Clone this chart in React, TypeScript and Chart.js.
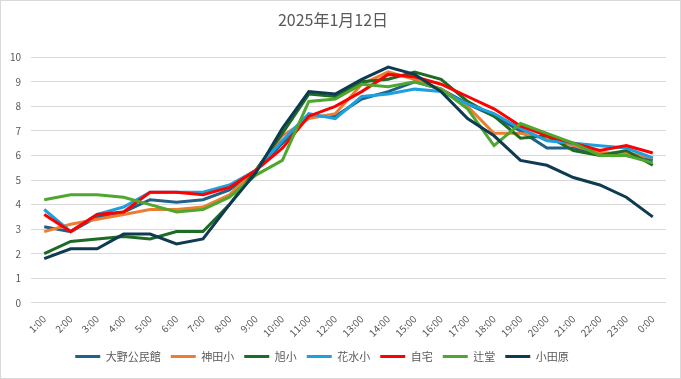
import { useEffect, useRef } from "react";
import { Chart, registerables } from "chart.js";

Chart.register(...registerables);

const TITLE = "2025年1月12日";

const hours = [
  "1:00", "2:00", "3:00", "4:00", "5:00", "6:00", "7:00", "8:00", "9:00", "10:00", "11:00", "12:00",
  "13:00", "14:00", "15:00", "16:00", "17:00", "18:00", "19:00", "20:00", "21:00", "22:00", "23:00", "0:00",
];

const seriesNames = ["大野公民館", "神田小", "旭小", "花水小", "自宅", "辻堂", "小田原"];

const ono = [3.1, 2.9, 3.5, 3.7, 4.2, 4.1, 4.2, 4.6, 5.4, 6.5, 7.6, 7.6, 8.3, 8.6, 9.0, 8.7, 8.1, 7.6, 7.0, 6.3, 6.3, 6.1, 6.0, 5.8];
const kanda = [2.9, 3.2, 3.4, 3.6, 3.8, 3.8, 3.9, 4.4, 5.4, 6.8, 7.5, 7.7, 8.9, 9.4, 9.1, 8.7, 8.0, 6.9, 6.9, 6.7, 6.4, 6.1, 6.1, 5.9];
const asahi = [2.0, 2.5, 2.6, 2.7, 2.6, 2.9, 2.9, 4.0, 5.4, 6.9, 8.5, 8.4, 9.0, 9.1, 9.4, 9.1, 8.2, 7.6, 6.7, 6.8, 6.2, 6.0, 6.2, 5.6];
const hanamizu = [3.8, 2.9, 3.6, 3.9, 4.5, 4.5, 4.5, 4.8, 5.4, 6.6, 7.7, 7.5, 8.4, 8.5, 8.7, 8.6, 8.1, 7.7, 7.1, 6.6, 6.5, 6.4, 6.3, 5.9];
const jitaku = [3.6, 2.9, 3.6, 3.7, 4.5, 4.5, 4.4, 4.7, 5.4, 6.3, 7.6, 8.0, 8.6, 9.3, 9.2, 8.9, 8.4, 7.9, 7.2, 6.8, 6.5, 6.2, 6.4, 6.1];
const tsujido = [4.2, 4.4, 4.4, 4.3, 4.0, 3.7, 3.8, 4.3, 5.2, 5.8, 8.2, 8.3, 8.9, 8.8, 9.0, 8.7, 7.9, 6.4, 7.3, 6.9, 6.5, 6.0, 6.0, 5.7];
const odawara = [1.8, 2.2, 2.2, 2.8, 2.8, 2.4, 2.6, 4.0, 5.3, 7.1, 8.6, 8.5, 9.1, 9.6, 9.3, 8.6, 7.5, 6.8, 5.8, 5.6, 5.1, 4.8, 4.3, 3.5];

const seriesValues = [ono, kanda, asahi, hanamizu, jitaku, tsujido, odawara];
const colors = ["#1F6188", "#ED7D31", "#1D6B24", "#1CA1DE", "#FF0000", "#4EA72E", "#0E3A52"];

const FONT = '"Noto Sans CJK JP", "Noto Sans", sans-serif';
const TEXT = "#595959";

export default function App() {
  const ref = useRef<HTMLCanvasElement>(null);

  useEffect(() => {
    document.body.style.margin = "0";
    const frame = {
      id: "frame",
      afterLayout(c: any) {
        if (c.legend) {
          c.legend.left -= 11;
          c.legend.right -= 11;
        }
      },
      beforeDraw(c: any) {
        const ctx = c.ctx;
        ctx.save();
        ctx.fillStyle = "#ffffff";
        ctx.fillRect(0, 0, c.width, c.height);
        ctx.restore();
      },
      afterDraw(c: any) {
        const ctx = c.ctx;
        ctx.save();
        ctx.strokeStyle = "#d9d9d9";
        ctx.lineWidth = 1;
        ctx.strokeRect(0.5, 0.5, c.width - 1, c.height - 1);
        ctx.restore();
      },
    };
    const chart = new Chart(ref.current as HTMLCanvasElement, {
      type: "line",
      data: {
        labels: hours,
        datasets: seriesNames.map((name, i) => ({
          label: name,
          data: seriesValues[i],
          borderColor: colors[i],
          backgroundColor: colors[i],
          borderWidth: 3,
          pointRadius: 0,
          tension: 0,
          fill: false,
          order: seriesNames.length - i,
        })),
      },
      options: {
        responsive: false,
        animation: false,
        layout: { padding: { left: 0, right: 15, top: 0, bottom: 7 } },
        plugins: {
          title: {
            display: true,
            text: TITLE,
            color: TEXT,
            font: { family: FONT, size: 16, weight: "normal" },
            padding: { top: 10, bottom: 28 },
          },
          legend: {
            position: "bottom",
            labels: {
              boxWidth: 25,
              boxHeight: 3,
              color: TEXT,
              font: { family: FONT, size: 11 },
              padding: 10,
              sort: (a: any, b: any) => a.datasetIndex - b.datasetIndex,
              generateLabels: (c: any) =>
                (Chart.defaults.plugins.legend.labels as any)
                  .generateLabels(c)
                  .map((l: any) => ({ ...l, lineWidth: 0 })),
            },
          },
          tooltip: { enabled: false },
        },
        scales: {
          x: {
            offset: true,
            grid: { display: false },
            border: { display: false },
            ticks: {
              color: TEXT,
              font: { family: FONT, size: 10 },
              minRotation: 45,
              maxRotation: 45,
              autoSkip: false,
              padding: 2,
            },
          },
          y: {
            min: 0,
            max: 10,
            afterFit: (s: any) => {
              s.width = 31;
            },
            grid: { color: "#d9d9d9", drawTicks: false },
            border: { display: false },
            ticks: {
              stepSize: 1,
              color: TEXT,
              font: { family: FONT, size: 10 },
              padding: 10,
            },
          },
        },
      },
      plugins: [frame],
    } as any);
    return () => chart.destroy();
  }, []);

  return (
    <div style={{ width: 681, height: 379 }}>
      <canvas ref={ref} width={681} height={379} style={{ display: "block" }} />
    </div>
  );
}
